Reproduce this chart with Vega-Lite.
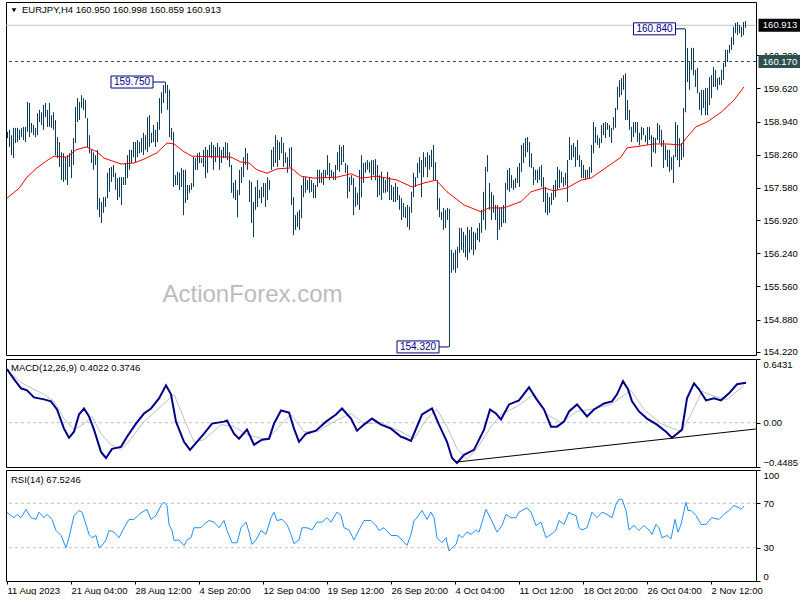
{
"$schema": "https://vega.github.io/schema/vega-lite/v6.json",
"padding": {"left": 2, "top": 1, "right": 0, "bottom": 0},
"background": "white",
"spacing": 1,
"config": {
 "font": "Liberation Sans",
 "view": {"stroke": "black", "strokeWidth": 1},
 "axis": {"labelFont": "Liberation Sans", "labelFontSize": 9.5, "labelColor": "black", "tickColor": "black", "domain": false, "grid": false, "tickSize": 4, "labelPadding": 3, "labelOverlap": false, "tickCount": 30},
 "text": {"font": "Liberation Sans"}
},
"datasets": {
 "bars": [
{"i":0,"h":158.73,"l":158.6},{"i":1,"h":158.77,"l":158.42},{"i":2,"h":158.66,"l":158.25},{"i":3,"h":158.81,"l":158.19},{"i":4,"h":158.81,"l":158.5},{"i":5,"h":158.81,"l":158.52},{"i":6,"h":158.77,"l":158.56},{"i":7,"h":158.81,"l":158.62},{"i":8,"h":158.83,"l":158.56},{"i":9,"h":158.83,"l":158.52},
{"i":10,"h":159.34,"l":158.73},{"i":11,"h":159.32,"l":158.62},{"i":12,"h":158.91,"l":158.71},{"i":13,"h":158.87,"l":158.66},{"i":14,"h":158.81,"l":158.62},{"i":15,"h":159.11,"l":158.66},{"i":16,"h":159.18,"l":158.93},{"i":17,"h":159.13,"l":158.87},{"i":18,"h":159.28,"l":158.77},{"i":19,"h":159.32,"l":159.03},
{"i":20,"h":159.18,"l":158.83},{"i":21,"h":159.32,"l":158.83},{"i":22,"h":159.07,"l":158.81},{"i":23,"h":159.13,"l":158.77},{"i":24,"h":158.97,"l":158.25},{"i":25,"h":158.62,"l":158.19},{"i":26,"h":158.52,"l":158.01},{"i":27,"h":158.31,"l":157.74},{"i":28,"h":158.29,"l":157.7},{"i":29,"h":158.21,"l":157.74},
{"i":30,"h":158.25,"l":157.64},{"i":31,"h":158.29,"l":158.01},{"i":32,"h":158.36,"l":157.78},{"i":33,"h":158.6,"l":158.05},{"i":34,"h":159.24,"l":158.5},{"i":35,"h":159.42,"l":158.93},{"i":36,"h":159.34,"l":158.97},{"i":37,"h":159.48,"l":159.22},{"i":38,"h":159.42,"l":159.18},{"i":39,"h":159.38,"l":159.01},
{"i":40,"h":159.01,"l":158.42},{"i":41,"h":158.66,"l":158.29},{"i":42,"h":158.36,"l":158.09},{"i":43,"h":158.31,"l":157.95},{"i":44,"h":158.25,"l":158.05},{"i":45,"h":158.36,"l":157.13},{"i":46,"h":157.37,"l":156.98},{"i":47,"h":157.29,"l":156.86},{"i":48,"h":157.39,"l":157.07},{"i":49,"h":157.39,"l":157.19},
{"i":50,"h":157.89,"l":157.37},{"i":51,"h":157.99,"l":157.5},{"i":52,"h":158.01,"l":157.7},{"i":53,"h":158.05,"l":157.8},{"i":54,"h":157.89,"l":157.54},{"i":55,"h":157.78,"l":157.33},{"i":56,"h":157.8,"l":157.39},{"i":57,"h":157.8,"l":157.23},{"i":58,"h":157.8,"l":157.64},{"i":59,"h":158.09,"l":157.64},
{"i":60,"h":158.25,"l":157.78},{"i":61,"h":158.36,"l":157.95},{"i":62,"h":158.36,"l":158.09},{"i":63,"h":158.52,"l":158.21},{"i":64,"h":158.52,"l":158.11},{"i":65,"h":158.56,"l":158.21},{"i":66,"h":158.52,"l":158.29},{"i":67,"h":158.6,"l":158.31},{"i":68,"h":158.71,"l":158.25},{"i":69,"h":158.66,"l":158.36},
{"i":70,"h":159.03,"l":158.31},{"i":71,"h":159.07,"l":158.42},{"i":72,"h":158.71,"l":158.5},{"i":73,"h":158.87,"l":158.52},{"i":74,"h":158.77,"l":158.42},{"i":75,"h":158.93,"l":158.52},{"i":76,"h":159.42,"l":158.77},{"i":77,"h":159.54,"l":159.11},{"i":78,"h":159.69,"l":159.32},{"i":79,"h":159.75,"l":159.52},
{"i":80,"h":159.69,"l":159.18},{"i":81,"h":159.59,"l":158.62},{"i":82,"h":158.81,"l":158.56},{"i":83,"h":158.73,"l":157.6},{"i":84,"h":157.84,"l":157.64},{"i":85,"h":157.91,"l":157.64},{"i":86,"h":157.89,"l":157.54},{"i":87,"h":157.99,"l":157.6},{"i":88,"h":157.95,"l":157.02},{"i":89,"h":157.95,"l":157.27},
{"i":90,"h":157.64,"l":157.33},{"i":91,"h":157.64,"l":157.48},{"i":92,"h":157.68,"l":157.54},{"i":93,"h":158.21,"l":157.6},{"i":94,"h":158.19,"l":157.95},{"i":95,"h":158.29,"l":157.95},{"i":96,"h":158.31,"l":158.09},{"i":97,"h":158.19,"l":158.09},{"i":98,"h":158.36,"l":158.01},{"i":99,"h":158.42,"l":157.78},
{"i":100,"h":158.36,"l":157.89},{"i":101,"h":158.46,"l":158.21},{"i":102,"h":158.52,"l":158.19},{"i":103,"h":158.46,"l":157.95},{"i":104,"h":158.42,"l":158.11},{"i":105,"h":158.5,"l":158.21},{"i":106,"h":158.42,"l":157.95},{"i":107,"h":158.36,"l":158.09},{"i":108,"h":158.42,"l":158.19},{"i":109,"h":158.52,"l":158.19},
{"i":110,"h":158.5,"l":158.15},{"i":111,"h":158.31,"l":158.01},{"i":112,"h":158.05,"l":157.48},{"i":113,"h":157.68,"l":157.37},{"i":114,"h":157.74,"l":157.33},{"i":115,"h":157.54,"l":156.98},{"i":116,"h":157.95,"l":157.43},{"i":117,"h":158.01,"l":157.68},{"i":118,"h":158.21,"l":157.8},{"i":119,"h":158.4,"l":158.05},
{"i":120,"h":158.29,"l":157.95},{"i":121,"h":157.74,"l":157.29},{"i":122,"h":157.7,"l":156.86},{"i":123,"h":157.29,"l":156.57},{"i":124,"h":157.6,"l":157.13},{"i":125,"h":157.74,"l":157.19},{"i":126,"h":157.54,"l":157.37},{"i":127,"h":157.6,"l":157.27},{"i":128,"h":157.68,"l":157.39},{"i":129,"h":157.68,"l":157.19},
{"i":130,"h":157.8,"l":157.33},{"i":131,"h":157.74,"l":157.54},{"i":132,"h":158.36,"l":157.95},{"i":133,"h":158.42,"l":158.01},{"i":134,"h":158.66,"l":158.09},{"i":135,"h":158.56,"l":158.01},{"i":136,"h":158.52,"l":158.15},{"i":137,"h":158.62,"l":158.29},{"i":138,"h":158.5,"l":158.01},{"i":139,"h":158.31,"l":158.09},
{"i":140,"h":158.21,"l":157.89},{"i":141,"h":158.4,"l":158.01},{"i":142,"h":158.42,"l":157.23},{"i":143,"h":157.39,"l":156.61},{"i":144,"h":157.02,"l":156.72},{"i":145,"h":157.09,"l":156.78},{"i":146,"h":157.13,"l":156.72},{"i":147,"h":157.64,"l":156.96},{"i":148,"h":157.8,"l":157.39},{"i":149,"h":157.8,"l":157.48},
{"i":150,"h":157.74,"l":157.54},{"i":151,"h":157.8,"l":157.48},{"i":152,"h":157.74,"l":157.5},{"i":153,"h":157.68,"l":157.37},{"i":154,"h":157.64,"l":157.37},{"i":155,"h":157.95,"l":157.6},{"i":156,"h":157.95,"l":157.68},{"i":157,"h":157.89,"l":157.68},{"i":158,"h":157.95,"l":157.64},{"i":159,"h":157.95,"l":157.78},
{"i":160,"h":158.25,"l":157.84},{"i":161,"h":158.09,"l":157.74},{"i":162,"h":157.95,"l":157.8},{"i":163,"h":157.91,"l":157.74},{"i":164,"h":158.05,"l":157.74},{"i":165,"h":158.31,"l":157.95},{"i":166,"h":158.46,"l":157.91},{"i":167,"h":158.42,"l":158.05},{"i":168,"h":158.46,"l":158.11},{"i":169,"h":158.09,"l":157.89},
{"i":170,"h":158.05,"l":157.37},{"i":171,"h":157.8,"l":157.5},{"i":172,"h":157.84,"l":157.64},{"i":173,"h":157.78,"l":157.02},{"i":174,"h":157.6,"l":157.19},{"i":175,"h":157.48,"l":157.23},{"i":176,"h":157.95,"l":157.13},{"i":177,"h":158.25,"l":157.39},{"i":178,"h":158.09,"l":157.68},{"i":179,"h":158.11,"l":157.89},
{"i":180,"h":158.15,"l":157.95},{"i":181,"h":158.11,"l":157.89},{"i":182,"h":158.15,"l":157.74},{"i":183,"h":158.15,"l":157.84},{"i":184,"h":158.17,"l":157.74},{"i":185,"h":158.05,"l":157.39},{"i":186,"h":157.84,"l":157.43},{"i":187,"h":157.91,"l":157.33},{"i":188,"h":157.8,"l":157.48},{"i":189,"h":157.74,"l":157.48},
{"i":190,"h":157.91,"l":157.5},{"i":191,"h":157.8,"l":157.33},{"i":192,"h":157.64,"l":157.33},{"i":193,"h":157.6,"l":157.29},{"i":194,"h":157.68,"l":157.29},{"i":195,"h":157.6,"l":157.33},{"i":196,"h":157.43,"l":157.13},{"i":197,"h":157.37,"l":156.92},{"i":198,"h":157.27,"l":156.98},{"i":199,"h":157.19,"l":156.96},
{"i":200,"h":157.23,"l":156.78},{"i":201,"h":157.19,"l":156.72},{"i":202,"h":157.5,"l":157.07},{"i":203,"h":157.89,"l":157.39},{"i":204,"h":157.8,"l":157.6},{"i":205,"h":158.09,"l":157.78},{"i":206,"h":158.21,"l":157.89},{"i":207,"h":158.15,"l":157.39},{"i":208,"h":158.31,"l":157.8},{"i":209,"h":158.21,"l":158.01},
{"i":210,"h":158.31,"l":157.8},{"i":211,"h":158.25,"l":157.95},{"i":212,"h":158.36,"l":158.01},{"i":213,"h":158.46,"l":157.74},{"i":214,"h":158.11,"l":157.74},{"i":215,"h":157.74,"l":157.13},{"i":216,"h":157.37,"l":156.98},{"i":217,"h":157.09,"l":156.92},{"i":218,"h":157.17,"l":156.72},{"i":219,"h":157.13,"l":156.76},
{"i":220,"h":157.17,"l":156.92},{"i":221,"h":157.15,"l":154.32},{"i":222,"h":156.31,"l":155.84},{"i":223,"h":156.25,"l":155.9},{"i":224,"h":156.31,"l":155.84},{"i":225,"h":156.37,"l":155.94},{"i":226,"h":156.76,"l":156.25},{"i":227,"h":156.76,"l":156.31},{"i":228,"h":156.68,"l":156.25},{"i":229,"h":156.61,"l":156.16},
{"i":230,"h":156.78,"l":156.1},{"i":231,"h":156.72,"l":156.25},{"i":232,"h":156.78,"l":156.31},{"i":233,"h":156.68,"l":156.2},{"i":234,"h":156.66,"l":156.31},{"i":235,"h":156.76,"l":156.51},{"i":236,"h":156.86,"l":156.47},{"i":237,"h":157.13,"l":156.66},{"i":238,"h":157.5,"l":156.92},{"i":239,"h":158.01,"l":156.72},
{"i":240,"h":158.25,"l":157.91},{"i":241,"h":157.68,"l":157.13},{"i":242,"h":157.5,"l":156.92},{"i":243,"h":157.43,"l":157.07},{"i":244,"h":157.23,"l":156.92},{"i":245,"h":157.23,"l":156.51},{"i":246,"h":157.17,"l":156.72},{"i":247,"h":157.19,"l":156.78},{"i":248,"h":157.23,"l":156.86},{"i":249,"h":157.68,"l":156.86},
{"i":250,"h":157.95,"l":157.54},{"i":251,"h":157.99,"l":157.5},{"i":252,"h":157.84,"l":157.58},{"i":253,"h":157.74,"l":157.54},{"i":254,"h":157.78,"l":157.58},{"i":255,"h":158.01,"l":157.68},{"i":256,"h":158.09,"l":157.6},{"i":257,"h":158.46,"l":157.91},{"i":258,"h":158.5,"l":158.09},{"i":259,"h":158.6,"l":158.21},
{"i":260,"h":158.62,"l":158.31},{"i":261,"h":158.52,"l":158.01},{"i":262,"h":158.29,"l":157.99},{"i":263,"h":158.01,"l":157.64},{"i":264,"h":157.95,"l":157.74},{"i":265,"h":157.95,"l":157.68},{"i":266,"h":158.01,"l":157.74},{"i":267,"h":158.05,"l":157.6},{"i":268,"h":157.8,"l":157.29},{"i":269,"h":157.6,"l":157.07},
{"i":270,"h":157.48,"l":157.02},{"i":271,"h":157.39,"l":157.07},{"i":272,"h":157.48,"l":157.23},{"i":273,"h":157.64,"l":157.33},{"i":274,"h":157.74,"l":157.39},{"i":275,"h":158.01,"l":157.54},{"i":276,"h":157.95,"l":157.58},{"i":277,"h":157.91,"l":157.68},{"i":278,"h":157.8,"l":157.6},{"i":279,"h":157.89,"l":157.64},
{"i":280,"h":158.15,"l":157.29},{"i":281,"h":158.62,"l":158.15},{"i":282,"h":158.46,"l":158.15},{"i":283,"h":158.5,"l":158.21},{"i":284,"h":158.42,"l":158.01},{"i":285,"h":158.56,"l":158.15},{"i":286,"h":158.25,"l":158.01},{"i":287,"h":158.15,"l":157.78},{"i":288,"h":158.05,"l":157.78},{"i":289,"h":157.95,"l":157.74},
{"i":290,"h":157.95,"l":157.78},{"i":291,"h":158.01,"l":157.78},{"i":292,"h":158.46,"l":157.89},{"i":293,"h":158.93,"l":158.29},{"i":294,"h":158.83,"l":158.5},{"i":295,"h":158.66,"l":158.46},{"i":296,"h":158.6,"l":158.4},{"i":297,"h":158.87,"l":158.5},{"i":298,"h":158.91,"l":158.66},{"i":299,"h":158.93,"l":158.6},
{"i":300,"h":158.91,"l":158.77},{"i":301,"h":158.87,"l":158.62},{"i":302,"h":158.81,"l":158.5},{"i":303,"h":159.03,"l":158.77},{"i":304,"h":159.22,"l":158.81},{"i":305,"h":159.65,"l":159.18},{"i":306,"h":159.79,"l":159.44},{"i":307,"h":159.83,"l":159.48},{"i":308,"h":159.89,"l":159.59},{"i":309,"h":159.93,"l":158.97},
{"i":310,"h":159.38,"l":158.97},{"i":311,"h":159.18,"l":158.77},{"i":312,"h":158.83,"l":158.52},{"i":313,"h":158.93,"l":158.62},{"i":314,"h":158.93,"l":158.71},{"i":315,"h":158.93,"l":158.52},{"i":316,"h":158.71,"l":158.46},{"i":317,"h":158.83,"l":158.56},{"i":318,"h":158.81,"l":158.66},{"i":319,"h":158.66,"l":158.52},
{"i":320,"h":158.83,"l":158.46},{"i":321,"h":158.83,"l":158.56},{"i":322,"h":158.66,"l":158.01},{"i":323,"h":158.62,"l":158.31},{"i":324,"h":158.6,"l":158.29},{"i":325,"h":158.91,"l":158.56},{"i":326,"h":158.87,"l":158.5},{"i":327,"h":158.77,"l":158.42},{"i":328,"h":158.56,"l":157.99},{"i":329,"h":158.46,"l":158.15},
{"i":330,"h":158.36,"l":158.01},{"i":331,"h":158.36,"l":157.91},{"i":332,"h":158.21,"l":157.95},{"i":333,"h":158.25,"l":157.68},{"i":334,"h":158.93,"l":158.21},{"i":335,"h":158.87,"l":158.15},{"i":336,"h":158.6,"l":158.01},{"i":337,"h":158.5,"l":158.15},{"i":338,"h":159.22,"l":158.21},{"i":339,"h":160.84,"l":159.13},
{"i":340,"h":160.45,"l":159.75},{"i":341,"h":160.16,"l":159.59},{"i":342,"h":160.45,"l":160.0},{"i":343,"h":160.45,"l":159.89},{"i":344,"h":160.0,"l":159.65},{"i":345,"h":160.04,"l":159.52},{"i":346,"h":159.54,"l":159.18},{"i":347,"h":159.59,"l":159.07},{"i":348,"h":159.59,"l":159.22},{"i":349,"h":159.63,"l":159.07},
{"i":350,"h":159.63,"l":159.07},{"i":351,"h":159.85,"l":159.28},{"i":352,"h":159.89,"l":159.42},{"i":353,"h":160.06,"l":159.65},{"i":354,"h":160.0,"l":159.65},{"i":355,"h":159.83,"l":159.59},{"i":356,"h":159.85,"l":159.69},{"i":357,"h":160.0,"l":159.69},{"i":358,"h":160.14,"l":159.79},{"i":359,"h":160.41,"l":160.06},
{"i":360,"h":160.41,"l":160.16},{"i":361,"h":160.51,"l":160.34},{"i":362,"h":160.67,"l":160.41},{"i":363,"h":160.88,"l":160.51},{"i":364,"h":160.96,"l":160.75},{"i":365,"h":160.98,"l":160.71},{"i":366,"h":160.92,"l":160.75},{"i":367,"h":160.88,"l":160.67},{"i":368,"h":160.98,"l":160.71},{"i":369,"h":161.0,"l":160.86}
 ],
 "ma": [
{"i":0,"v":157.37},{"i":6,"v":157.57},{"i":10,"v":157.8},{"i":15,"v":157.99},{"i":20,"v":158.14},{"i":23.5,"v":158.23},{"i":30,"v":158.21},{"i":34.5,"v":158.36},{"i":39.5,"v":158.42},{"i":45,"v":158.32},{"i":48.5,"v":158.19},{"i":57,"v":158.07},{"i":63.5,"v":158.09},{"i":68.5,"v":158.17},{"i":75,"v":158.3},{"i":80,"v":158.5},{"i":83.5,"v":158.48},{"i":88.5,"v":158.32},{"i":92.5,"v":158.23},{"i":112,"v":158.21},{"i":117,"v":158.11},{"i":121,"v":158.09},{"i":125,"v":157.95},{"i":130,"v":157.88},{"i":135,"v":157.97},{"i":142,"v":157.99},{"i":147,"v":157.82},{"i":153.5,"v":157.78},{"i":165,"v":157.8},{"i":172,"v":157.87},{"i":177,"v":157.78},{"i":185,"v":157.82},{"i":195,"v":157.74},{"i":202.5,"v":157.6},{"i":208.5,"v":157.68},{"i":214.5,"v":157.74},{"i":220,"v":157.5},{"i":228.5,"v":157.23},{"i":237,"v":157.09},{"i":241,"v":157.17},{"i":248.5,"v":157.17},{"i":257,"v":157.3},{"i":262,"v":157.5},{"i":268.5,"v":157.58},{"i":273.5,"v":157.52},{"i":280,"v":157.58},{"i":287,"v":157.74},{"i":292,"v":157.78},{"i":300,"v":158.01},{"i":307,"v":158.21},{"i":310,"v":158.4},{"i":317,"v":158.44},{"i":323.5,"v":158.48},{"i":330,"v":158.48},{"i":337,"v":158.46},{"i":340,"v":158.62},{"i":344.5,"v":158.83},{"i":350,"v":158.93},{"i":357,"v":159.13},{"i":363.5,"v":159.38},{"i":368.5,"v":159.65}
 ],
 "macd": [
{"i":0,"v":0.541},{"i":3.5,"v":0.439},{"i":7,"v":0.347},{"i":10,"v":0.327},{"i":13.5,"v":0.255},{"i":18.5,"v":0.235},{"i":22,"v":0.215},{"i":25,"v":0.133},{"i":28.5,"v":-0.061},{"i":31,"v":-0.153},{"i":33.5,"v":-0.092},{"i":36,"v":0.082},{"i":38.5,"v":0.143},{"i":41,"v":0.062},{"i":43.5,"v":-0.071},{"i":47,"v":-0.296},{"i":49.5,"v":-0.357},{"i":52.5,"v":-0.265},{"i":57,"v":-0.245},{"i":60,"v":-0.143},{"i":64.5,"v":-0.01},{"i":68.5,"v":0.092},{"i":72,"v":0.143},{"i":76,"v":0.245},{"i":79.5,"v":0.378},{"i":82,"v":0.286},{"i":84.5,"v":0.01},{"i":88.5,"v":-0.194},{"i":91.5,"v":-0.275},{"i":95,"v":-0.194},{"i":98.5,"v":-0.112},{"i":102.5,"v":-0.01},{"i":108.5,"v":0.01},{"i":110,"v":0.021},{"i":113.5,"v":-0.112},{"i":116,"v":-0.163},{"i":120,"v":-0.071},{"i":123.5,"v":-0.224},{"i":127.5,"v":-0.173},{"i":131,"v":-0.163},{"i":133.5,"v":-0.01},{"i":137,"v":0.123},{"i":141,"v":0.102},{"i":143.5,"v":-0.061},{"i":146,"v":-0.194},{"i":149.5,"v":-0.112},{"i":154.5,"v":-0.081},{"i":159.5,"v":0.01},{"i":164.5,"v":0.082},{"i":167.5,"v":0.143},{"i":172,"v":0.041},{"i":175,"v":-0.081},{"i":178.5,"v":-0.02},{"i":182.5,"v":0.041},{"i":187,"v":-0.02},{"i":192,"v":-0.061},{"i":197,"v":-0.143},{"i":198.5,"v":-0.153},{"i":202,"v":-0.184},{"i":207.5,"v":0.082},{"i":212.5,"v":0.143},{"i":216,"v":-0.02},{"i":220,"v":-0.194},{"i":222.5,"v":-0.357},{"i":225,"v":-0.408},{"i":228.5,"v":-0.326},{"i":233.5,"v":-0.275},{"i":238.5,"v":-0.071},{"i":241.5,"v":0.133},{"i":244.5,"v":0.092},{"i":247,"v":0.031},{"i":251,"v":0.184},{"i":256,"v":0.225},{"i":261,"v":0.357},{"i":264.5,"v":0.245},{"i":268.5,"v":0.133},{"i":272,"v":-0.041},{"i":275,"v":-0.041},{"i":278.5,"v":0.01},{"i":281,"v":0.113},{"i":285,"v":0.184},{"i":290,"v":0.062},{"i":293.5,"v":0.133},{"i":298.5,"v":0.194},{"i":302.5,"v":0.215},{"i":305,"v":0.286},{"i":308,"v":0.419},{"i":310.5,"v":0.337},{"i":312.5,"v":0.215},{"i":316,"v":0.113},{"i":320,"v":0.041},{"i":325,"v":-0.02},{"i":329.5,"v":-0.092},{"i":332.5,"v":-0.153},{"i":335,"v":-0.112},{"i":337.5,"v":-0.071},{"i":340,"v":0.245},{"i":343.5,"v":0.398},{"i":346,"v":0.337},{"i":349.5,"v":0.225},{"i":353.5,"v":0.245},{"i":357,"v":0.225},{"i":361,"v":0.296},{"i":365,"v":0.388},{"i":369.5,"v":0.402}
 ],
 "signal": [
{"i":0,"v":0.521},{"i":8.5,"v":0.388},{"i":18.5,"v":0.286},{"i":23.5,"v":0.215},{"i":28.5,"v":0.041},{"i":33.5,"v":-0.071},{"i":38.5,"v":-0.01},{"i":42.5,"v":0.062},{"i":47,"v":-0.112},{"i":52,"v":-0.224},{"i":57,"v":-0.275},{"i":62,"v":-0.163},{"i":68.5,"v":0.01},{"i":77,"v":0.164},{"i":83.5,"v":0.286},{"i":88.5,"v":0.041},{"i":93.5,"v":-0.194},{"i":98.5,"v":-0.173},{"i":107,"v":-0.02},{"i":113.5,"v":-0.041},{"i":120,"v":-0.122},{"i":130,"v":-0.173},{"i":137,"v":-0.02},{"i":142,"v":0.082},{"i":148.5,"v":-0.092},{"i":155,"v":-0.092},{"i":163.5,"v":0.01},{"i":172,"v":0.092},{"i":178.5,"v":-0.01},{"i":187,"v":0.0},{"i":197,"v":-0.092},{"i":203.5,"v":-0.163},{"i":210,"v":0.041},{"i":215,"v":0.133},{"i":220,"v":-0.041},{"i":225,"v":-0.265},{"i":230,"v":-0.367},{"i":235,"v":-0.265},{"i":242,"v":-0.041},{"i":247,"v":0.082},{"i":255,"v":0.164},{"i":263.5,"v":0.286},{"i":270,"v":0.082},{"i":277,"v":0.0},{"i":285,"v":0.113},{"i":292,"v":0.133},{"i":302,"v":0.184},{"i":312,"v":0.327},{"i":318.5,"v":0.133},{"i":327,"v":-0.01},{"i":337,"v":-0.092},{"i":342,"v":0.082},{"i":347.5,"v":0.317},{"i":353.5,"v":0.266},{"i":360,"v":0.235},{"i":368.5,"v":0.375}
 ],
 "rsi": [
{"i":0,"v":61.8},{"i":2,"v":59},{"i":3.5,"v":57},{"i":5,"v":60},{"i":7,"v":57},{"i":9.5,"v":64.5},{"i":12,"v":57},{"i":14.5,"v":55.5},{"i":16,"v":62},{"i":18.5,"v":57},{"i":20,"v":60},{"i":22.5,"v":55.5},{"i":24.5,"v":45.5},{"i":27,"v":41},{"i":29.5,"v":30},{"i":31,"v":39},{"i":33.5,"v":59},{"i":36,"v":63.5},{"i":37.5,"v":62},{"i":39.5,"v":51},{"i":41,"v":42},{"i":42.5,"v":39},{"i":44.5,"v":41},{"i":46,"v":30},{"i":47.5,"v":32},{"i":49.5,"v":37},{"i":51,"v":45.5},{"i":53.5,"v":44},{"i":56,"v":39},{"i":58.5,"v":48},{"i":61,"v":55.5},{"i":63.5,"v":55.5},{"i":66,"v":60},{"i":67.5,"v":62},{"i":70,"v":64.5},{"i":72,"v":55.5},{"i":74.5,"v":59},{"i":77,"v":68},{"i":78.5,"v":71},{"i":80,"v":68},{"i":81,"v":51},{"i":82.5,"v":45.5},{"i":83.5,"v":36.5},{"i":86,"v":37},{"i":88.5,"v":32},{"i":90,"v":37},{"i":92,"v":39},{"i":93.5,"v":48},{"i":97,"v":48},{"i":98.5,"v":51},{"i":101,"v":54.5},{"i":103.5,"v":53},{"i":106,"v":48},{"i":108.5,"v":54.5},{"i":110,"v":45.5},{"i":112.5,"v":34.5},{"i":115,"v":34.5},{"i":117,"v":48},{"i":119.5,"v":53},{"i":121,"v":44},{"i":122.5,"v":33},{"i":124.5,"v":37},{"i":127,"v":45.5},{"i":129.5,"v":42},{"i":132,"v":57},{"i":133.5,"v":62},{"i":135,"v":54.5},{"i":137.5,"v":55.5},{"i":140,"v":51},{"i":142,"v":42},{"i":143.5,"v":33.6},{"i":146,"v":37},{"i":147.5,"v":48},{"i":150,"v":48},{"i":152.5,"v":46},{"i":155,"v":53},{"i":157.5,"v":53},{"i":160,"v":57},{"i":162,"v":53},{"i":165,"v":62},{"i":167,"v":59},{"i":168.5,"v":48},{"i":171,"v":46},{"i":173.5,"v":37},{"i":176,"v":46},{"i":178.5,"v":54.5},{"i":182,"v":54.5},{"i":184.5,"v":50},{"i":186,"v":45.5},{"i":188.5,"v":48},{"i":192,"v":41},{"i":195,"v":41},{"i":197.5,"v":37},{"i":200,"v":32},{"i":202,"v":42},{"i":203.5,"v":54.5},{"i":205,"v":57},{"i":207.5,"v":63.5},{"i":210,"v":55.5},{"i":212,"v":62},{"i":213.5,"v":57},{"i":215,"v":39},{"i":217.5,"v":34.5},{"i":219.5,"v":39},{"i":221,"v":27},{"i":222.5,"v":30},{"i":224.5,"v":33},{"i":226,"v":42},{"i":227.5,"v":39},{"i":230,"v":44},{"i":232,"v":42},{"i":234.5,"v":46},{"i":236,"v":44},{"i":237.5,"v":53},{"i":239.5,"v":64.5},{"i":242,"v":55.5},{"i":245,"v":44},{"i":247.5,"v":50},{"i":249.5,"v":60},{"i":252,"v":57},{"i":254.5,"v":57},{"i":256,"v":62},{"i":258.5,"v":64.5},{"i":260,"v":66},{"i":262,"v":62},{"i":264.5,"v":50},{"i":267,"v":53},{"i":269.5,"v":39},{"i":272,"v":42},{"i":274.5,"v":46},{"i":276,"v":54.5},{"i":278.5,"v":51},{"i":281,"v":62},{"i":282.5,"v":60},{"i":284.5,"v":59},{"i":286,"v":48},{"i":287.5,"v":46},{"i":290,"v":48},{"i":292.5,"v":62},{"i":295,"v":57},{"i":297.5,"v":62},{"i":300,"v":60},{"i":302.5,"v":57},{"i":304.5,"v":69},{"i":306,"v":73.6},{"i":307.5,"v":73.6},{"i":309.5,"v":63.5},{"i":311,"v":46},{"i":313.5,"v":50},{"i":316,"v":45.5},{"i":318.5,"v":50},{"i":321,"v":46},{"i":322.5,"v":42},{"i":324.5,"v":51},{"i":326,"v":48},{"i":327.5,"v":39},{"i":330,"v":41},{"i":332,"v":38},{"i":334,"v":55.5},{"i":335.5,"v":44},{"i":337,"v":51},{"i":339.5,"v":71},{"i":340.5,"v":63.5},{"i":342,"v":63.5},{"i":344.5,"v":59},{"i":347,"v":51},{"i":349.5,"v":51},{"i":351,"v":54.5},{"i":352.5,"v":57},{"i":356,"v":55.5},{"i":358.5,"v":60},{"i":361,"v":63.5},{"i":363.5,"v":68},{"i":366,"v":66},{"i":367,"v":64.5},{"i":368.5,"v":67.5}
 ]
},
"vconcat": [
 {
  "width": 750, "height": 353,
  "layer": [
   {"data": {"values": [{"p": 160.913}]}, "mark": {"type": "rule", "color": "#c0c0c0", "strokeWidth": 1},
    "encoding": {"y": {"field": "p", "type": "quantitative", "scale": {"domain": [154.155, 161.39], "nice": false, "zero": false},
      "axis": {"orient": "right", "values": [154.22, 154.88, 155.56, 156.24, 156.92, 157.58, 158.26, 158.94, 159.62, 160.3], "format": ".3f", "labelOverlap": false, "tickCount": 30, "title": null}}}},
   {"data": {"values": [{"p": 160.17}]}, "mark": {"type": "rule", "color": "#2f4f4f", "strokeWidth": 1, "strokeDash": [3, 3]},
    "encoding": {"y": {"field": "p", "type": "quantitative"}}},
   {"data": {"name": "bars"}, "mark": {"type": "rule", "color": "#0f3b57", "strokeWidth": 1, "xOffset": 0.5},
    "encoding": {"x": {"field": "i", "type": "quantitative", "scale": {"domain": [-0.5, 374.5], "nice": false, "zero": false}, "axis": null},
     "y": {"field": "h", "type": "quantitative"}, "y2": {"field": "l"}}},
   {"data": {"name": "ma"}, "mark": {"type": "line", "color": "#ff0000", "strokeWidth": 1},
    "encoding": {"x": {"field": "i", "type": "quantitative"}, "y": {"field": "v", "type": "quantitative"}}},
   {"data": {"values": [{"a": 73, "b": 79, "p": 159.75}, {"a": 334.5, "b": 339, "p": 160.84}, {"a": 216, "b": 221, "p": 154.32}]},
    "mark": {"type": "rule", "color": "#000080", "strokeWidth": 1},
    "encoding": {"x": {"field": "a", "type": "quantitative"}, "x2": {"field": "b"}, "y": {"field": "p", "type": "quantitative"}}},
   {"data": {"values": [{"c": 62.5, "p": 159.75, "t": "159.750"}, {"c": 323.75, "p": 160.84, "t": "160.840"}, {"c": 205.5, "p": 154.32, "t": "154.320"}]},
    "layer": [
     {"mark": {"type": "tick", "orient": "horizontal", "size": 42, "thickness": 12, "color": "white", "filled": true, "opacity": 1, "stroke": "#000080", "strokeWidth": 1},
      "encoding": {"x": {"field": "c", "type": "quantitative"}, "y": {"field": "p", "type": "quantitative"}}},
     {"mark": {"type": "text", "color": "#000080", "fontSize": 10, "align": "center", "baseline": "middle"},
      "encoding": {"x": {"field": "c", "type": "quantitative"}, "y": {"field": "p", "type": "quantitative"}, "text": {"field": "t"}}}
    ]},
   {"data": {"values": [{"c": 386.5, "p": 160.913, "t": "160.913", "k": "a"}, {"c": 386.5, "p": 160.17, "t": "160.170", "k": "b"}]},
    "layer": [
     {"mark": {"type": "tick", "orient": "horizontal", "size": 43, "thickness": 13, "filled": true, "opacity": 1},
      "encoding": {"x": {"field": "c", "type": "quantitative"}, "y": {"field": "p", "type": "quantitative"},
       "color": {"field": "k", "type": "nominal", "scale": {"domain": ["a", "b"], "range": ["#000000", "#2f4f4f"]}, "legend": null}}},
     {"mark": {"type": "text", "color": "white", "fontSize": 9.5, "align": "center", "baseline": "middle"},
      "encoding": {"x": {"field": "c", "type": "quantitative"}, "y": {"field": "p", "type": "quantitative"}, "text": {"field": "t"}}}
    ]},
   {"data": {"values": [{"c": 7.5, "p": 161.22, "t": "EURJPY,H4  160.950 160.998 160.859 160.913"}]},
    "mark": {"type": "text", "color": "black", "fontSize": 9.5, "align": "left", "baseline": "middle"},
    "encoding": {"x": {"field": "c", "type": "quantitative"}, "y": {"field": "p", "type": "quantitative"}, "text": {"field": "t"}}},
   {"data": {"values": [{"c": 3.5, "p": 161.22}]},
    "mark": {"type": "point", "shape": "triangle-down", "size": 22, "filled": true, "color": "black", "opacity": 1},
    "encoding": {"x": {"field": "c", "type": "quantitative"}, "y": {"field": "p", "type": "quantitative"}}},
   {"data": {"values": [{"c": 122.75, "p": 155.385, "t": "ActionForex.com"}]},
    "mark": {"type": "text", "color": "#bcbcbc", "fontSize": 24, "align": "center", "baseline": "middle"},
    "encoding": {"x": {"field": "c", "type": "quantitative"}, "y": {"field": "p", "type": "quantitative"}, "text": {"field": "t"}}}
  ]
 },
 {
  "width": 750, "height": 108,
  "layer": [
   {"data": {"values": [{"p": 0}]}, "mark": {"type": "rule", "color": "#c0c0c0", "strokeWidth": 1, "strokeDash": [3, 3]},
    "encoding": {"y": {"field": "p", "type": "quantitative", "scale": {"domain": [-0.4485, 0.6431], "nice": false, "zero": false},
      "axis": {"orient": "right", "values": [-0.4485, 0, 0.6431], "labelFlush": true, "labelOverlap": false, "tickCount": 30, "labelExpr": "datum.value == 0 ? '0.00' : format(datum.value, '.4f')", "title": null}}}},
   {"data": {"name": "signal"}, "mark": {"type": "line", "color": "#c0c0c0", "strokeWidth": 1},
    "encoding": {"x": {"field": "i", "type": "quantitative", "scale": {"domain": [-0.5, 374.5], "nice": false, "zero": false}, "axis": null},
     "y": {"field": "v", "type": "quantitative"}}},
   {"data": {"name": "macd"}, "mark": {"type": "line", "color": "#00008b", "strokeWidth": 2},
    "encoding": {"x": {"field": "i", "type": "quantitative"}, "y": {"field": "v", "type": "quantitative"}}},
   {"data": {"values": [{"a": 225, "b": 374.5, "u": -0.398, "w": -0.064}]}, "mark": {"type": "rule", "color": "black", "strokeWidth": 1},
    "encoding": {"x": {"field": "a", "type": "quantitative"}, "x2": {"field": "b"}, "y": {"field": "u", "type": "quantitative"}, "y2": {"field": "w"}}},
   {"data": {"values": [{"c": 2, "p": 0.552, "t": "MACD(12,26,9) 0.4022 0.3746"}]},
    "mark": {"type": "text", "color": "black", "fontSize": 9.5, "align": "left", "baseline": "middle"},
    "encoding": {"x": {"field": "c", "type": "quantitative"}, "y": {"field": "p", "type": "quantitative"}, "text": {"field": "t"}}}
  ]
 },
 {
  "width": 750, "height": 111,
  "layer": [
   {"data": {"values": [{"p": 70}, {"p": 30}]}, "mark": {"type": "rule", "color": "#c0c0c0", "strokeWidth": 1, "strokeDash": [3, 3]},
    "encoding": {"y": {"field": "p", "type": "quantitative", "scale": {"domain": [0, 100], "nice": false},
      "axis": {"orient": "right", "values": [0, 30, 70, 100], "labelFlush": true, "labelOverlap": false, "tickCount": 30, "title": null}}}},
   {"data": {"name": "rsi"}, "mark": {"type": "line", "color": "#1e90ff", "strokeWidth": 1},
    "encoding": {"x": {"field": "i", "type": "quantitative", "scale": {"domain": [-0.5, 374.5], "nice": false, "zero": false},
      "axis": {"orient": "bottom", "values": [0, 32, 64, 96, 128, 160, 192, 224, 256, 288, 320, 352], "labelAlign": "left", "tickSize": 3, "labelPadding": 1, "labelFlush": false, "labelOverlap": false, "tickCount": 30, "title": null,
       "labelExpr": "['11 Aug 2023','21 Aug 04:00','28 Aug 12:00','4 Sep 20:00','12 Sep 04:00','19 Sep 12:00','26 Sep 20:00','4 Oct 04:00','11 Oct 12:00','18 Oct 20:00','26 Oct 04:00','2 Nov 12:00'][round(datum.value / 32)]"}},
     "y": {"field": "v", "type": "quantitative"}}},
   {"data": {"values": [{"c": 2, "p": 91, "t": "RSI(14) 67.5246"}]},
    "mark": {"type": "text", "color": "black", "fontSize": 9.5, "align": "left", "baseline": "middle"},
    "encoding": {"x": {"field": "c", "type": "quantitative"}, "y": {"field": "p", "type": "quantitative"}, "text": {"field": "t"}}}
  ]
 }
]
}
